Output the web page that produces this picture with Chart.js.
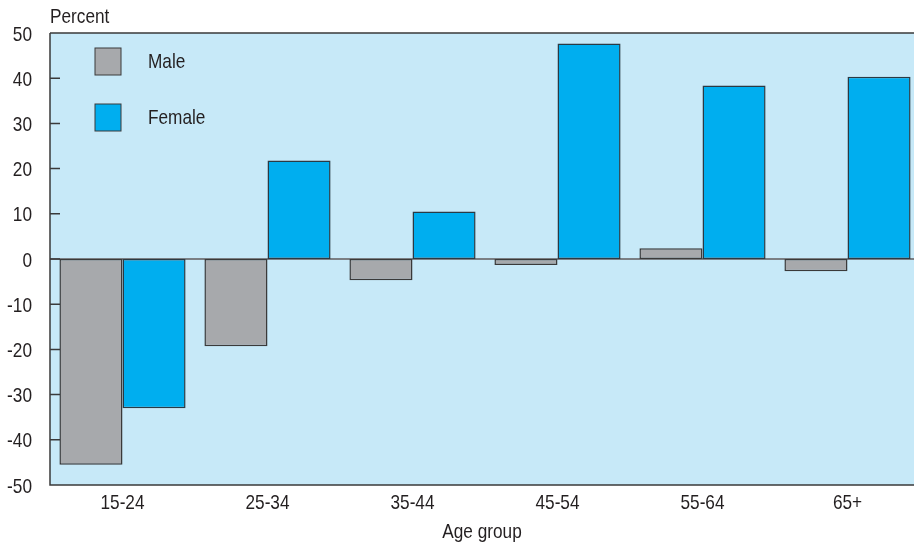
<!DOCTYPE html>
<html>
<head>
<meta charset="utf-8">
<script src="https://cdn.jsdelivr.net/npm/chart.js@4"></script>
<style>
  html, body { margin: 0; padding: 0; background: #fff; overflow: hidden; }
  #wrap { width: 920px; height: 543px; }
</style>
</head>
<body>
<div id="wrap"><canvas id="grafico" width="920" height="543"></canvas></div>
<script>
  const faixas = ['15-24', '25-34', '35-44', '45-54', '55-64', '65+'];
  const homens = [-45.5, -19.3, -4.7, -1.3, 2.4, -2.7];
  const mulheres = [-33.0, 21.8, 10.5, 47.7, 38.4, 40.3];
  const ticksY = [50, 40, 30, 20, 10, 0, -10, -20, -30, -40, -50];

  const fonte = "'Liberation Sans', Arial, sans-serif";
  const corTexto = '#231f20';
  const corFundo = '#c7e9f8';

  // texto "estreito": a fonte Narrow nao esta instalada, entao comprime na horizontal
  function textoEstreito(ctx, txt, x, y, alinh) {
    ctx.save();
    ctx.font = '21px ' + fonte;
    ctx.fillStyle = corTexto;
    ctx.textAlign = alinh || 'left';
    ctx.textBaseline = 'alphabetic';
    ctx.translate(x, y);
    ctx.scale(0.82, 1);
    ctx.fillText(txt, 0, 0);
    ctx.restore();
  }

  const extras = {
    id: 'extras',
    beforeDatasetsDraw(chart) {
      const { ctx, chartArea: a, scales } = chart;
      ctx.save();
      ctx.fillStyle = corFundo;
      ctx.fillRect(a.left, a.top, a.right - a.left, a.bottom - a.top);
      const y0 = scales.y.getPixelForValue(0);
      ctx.strokeStyle = '#7a7f84';
      ctx.lineWidth = 2;
      ctx.beginPath();
      ctx.moveTo(a.left, y0);
      ctx.lineTo(a.right, y0);
      ctx.stroke();
      ctx.restore();
    },
    afterDraw(chart) {
      const { ctx, chartArea: a, scales } = chart;
      ctx.save();
      ctx.strokeStyle = '#3a3a3a';
      ctx.lineWidth = 1.5;
      ctx.beginPath();
      ctx.moveTo(a.left, a.top);
      ctx.lineTo(a.right, a.top);
      ctx.moveTo(a.left, a.top);
      ctx.lineTo(a.left, a.bottom);
      ctx.lineTo(a.right, a.bottom);
      ticksY.forEach(v => {
        const y = scales.y.getPixelForValue(v);
        ctx.moveTo(a.left, y);
        ctx.lineTo(a.left + 10, y);
      });
      ctx.stroke();

      // rotulos do eixo y
      ticksY.forEach(v => {
        textoEstreito(ctx, String(v), a.left - 18, scales.y.getPixelForValue(v) + 7.5, 'right');
      });

      // rotulos do eixo x e titulo
      chart.data.labels.forEach((lab, i) => {
        textoEstreito(ctx, lab, scales.x.getPixelForTick(i), a.bottom + 24, 'center');
      });
      textoEstreito(ctx, 'Age group', 482, 538, 'center');

      // legenda
      chart.data.datasets.forEach((ds, i) => {
        const y = 48 + i * 56;
        ctx.fillStyle = ds.backgroundColor;
        ctx.fillRect(95, y, 26, 27);
        ctx.strokeStyle = '#3a3a3a';
        ctx.lineWidth = 1;
        ctx.strokeRect(95, y, 26, 27);
        textoEstreito(ctx, ds.label, 148, y + 20);
      });

      textoEstreito(ctx, 'Percent', 50, 23);
      ctx.restore();
    }
  };

  const dados = {
    labels: faixas,
    datasets: [
      {
        label: 'Male',
        data: homens,
        backgroundColor: '#a7a9ac',
        borderColor: '#3a3a3a',
        borderWidth: 1.5,
        borderSkipped: false
      },
      {
        label: 'Female',
        data: mulheres,
        backgroundColor: '#00aeef',
        borderColor: '#2a3a44',
        borderWidth: 1.5,
        borderSkipped: false
      }
    ]
  };

  const config = {
    type: 'bar',
    data: dados,
    options: {
      responsive: false,
      animation: false,
      layout: { padding: { top: 33, right: 0, left: 0, bottom: 0 } },
      datasets: { bar: { categoryPercentage: 0.87, barPercentage: 1.0 } },
      plugins: {
        legend: { display: false },
        tooltip: { enabled: false }
      },
      scales: {
        x: {
          grid: { display: false, drawTicks: false },
          border: { display: false },
          ticks: { display: false },
          afterFit(s) { s.height = 58; }
        },
        y: {
          min: -50,
          max: 50,
          afterBuildTicks(s) { s.ticks = ticksY.map(v => ({ value: v })); },
          grid: { display: false, drawTicks: false },
          border: { display: false },
          ticks: { display: false },
          afterFit(s) { s.width = 50; }
        }
      }
    },
    plugins: [extras]
  };

  const ctx = document.getElementById('grafico').getContext('2d');
  const grafico = new Chart(ctx, config);
</script>
</body>
</html>
